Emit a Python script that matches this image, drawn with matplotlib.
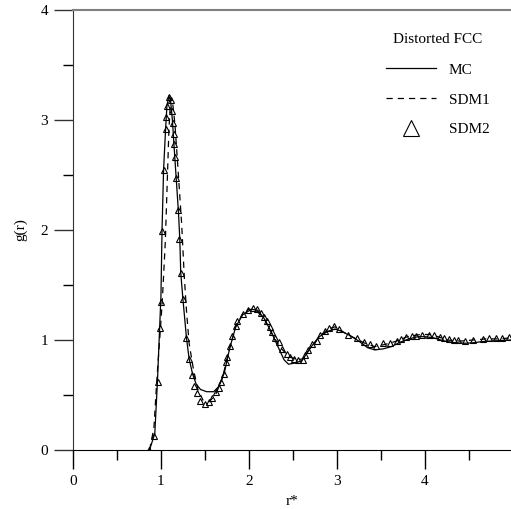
import matplotlib
matplotlib.use('Agg')
import matplotlib.pyplot as plt
import numpy as np

plt.rcParams['font.family'] = ['Liberation Serif', 'DejaVu Serif']

# MC (solid line)
r_mc = [0.87, 0.93, 0.96, 0.985, 1.0, 1.012, 1.03, 1.053, 1.068, 1.09, 1.11, 1.13,
        1.15, 1.175, 1.20, 1.215, 1.225, 1.25, 1.29, 1.32, 1.36, 1.40, 1.45, 1.52,
        1.60, 1.66, 1.72, 1.78, 1.85, 1.93, 2.03, 2.10, 2.17, 2.25, 2.33, 2.40,
        2.45, 2.52, 2.60, 2.70, 2.80, 2.90, 2.98, 3.05, 3.15, 3.25, 3.35, 3.43,
        3.53, 3.62, 3.72, 3.82, 3.92, 4.00, 4.10, 4.18, 4.26, 4.35, 4.45, 4.55,
        4.65, 4.75, 4.85, 4.98]
g_mc = [0.0, 0.15, 0.62, 1.11, 1.40, 1.99, 2.55, 2.92, 3.13, 3.22, 3.17, 3.00,
        2.75, 2.45, 2.15, 1.90, 1.61, 1.37, 1.02, 0.83, 0.69, 0.60, 0.55, 0.53,
        0.53, 0.58, 0.70, 0.92, 1.12, 1.23, 1.28, 1.27, 1.20, 1.08, 0.94, 0.82,
        0.78, 0.79, 0.81, 0.93, 1.03, 1.08, 1.10, 1.08, 1.04, 0.99, 0.93, 0.91,
        0.92, 0.94, 0.98, 1.01, 1.03, 1.03, 1.02, 1.00, 0.985, 0.975, 0.97, 0.975,
        0.985, 0.99, 0.995, 1.00]

# SDM1 (dashed line)
r_sdm1 = [0.87, 0.92, 0.95, 0.985, 1.015, 1.05, 1.07, 1.09, 1.11, 1.13, 1.16,
          1.19, 1.215, 1.235, 1.265, 1.29, 1.32, 1.37, 1.42, 1.48, 1.55, 1.62,
          1.70, 1.78, 1.85, 1.93, 2.00, 2.08, 2.17, 2.26, 2.35, 2.45, 2.55, 2.62,
          2.70, 2.80, 2.90, 2.98, 3.10, 3.22, 3.32, 3.43, 3.55, 3.68, 3.80, 3.95,
          4.05, 4.15, 4.25, 4.40, 4.55, 4.70, 4.85, 4.98]
g_sdm1 = [0.0, 0.2, 0.6, 1.0, 1.35, 1.9, 2.4, 2.9, 3.2, 3.18, 2.95,
          2.6, 2.3, 2.06, 1.58, 1.27, 0.97, 0.73, 0.55, 0.45, 0.44, 0.50,
          0.66, 0.92, 1.12, 1.24, 1.28, 1.27, 1.20, 1.06, 0.94, 0.85, 0.82, 0.83,
          0.93, 1.03, 1.10, 1.12, 1.06, 1.01, 0.97, 0.94, 0.96, 0.99, 1.03, 1.05,
          1.05, 1.03, 1.00, 0.99, 1.00, 1.01, 1.01, 1.02]

# SDM2 (triangles)
r_sdm2 = [0.86, 0.917, 0.962, 0.985, 0.997, 1.011, 1.03, 1.053, 1.06, 1.068, 1.09,
          1.11, 1.13, 1.14, 1.144, 1.15, 1.16, 1.174, 1.197, 1.21, 1.224, 1.247,
          1.29, 1.318, 1.356, 1.38, 1.405, 1.443, 1.497, 1.55, 1.58, 1.63, 1.66,
          1.68, 1.72, 1.745, 1.75, 1.78, 1.81, 1.85, 1.87, 1.93, 1.99, 2.05, 2.09,
          2.14, 2.17, 2.21, 2.24, 2.26, 2.295, 2.34, 2.38, 2.435, 2.47, 2.51, 2.56,
          2.61, 2.64, 2.67, 2.72, 2.77, 2.81, 2.86, 2.91, 2.97, 3.03, 3.13, 3.23,
          3.31, 3.375, 3.44, 3.53, 3.60, 3.68, 3.735, 3.79, 3.85, 3.905, 3.97,
          4.045, 4.11, 4.17, 4.22, 4.27, 4.33, 4.38, 4.46, 4.55, 4.66, 4.73, 4.81,
          4.88, 4.955]
g_sdm2 = [0.0, 0.127, 0.62, 1.11, 1.35, 1.99, 2.55, 2.92, 3.03, 3.13, 3.21,
          3.18, 3.08, 2.97, 2.87, 2.78, 2.66, 2.47, 2.18, 1.92, 1.61, 1.37,
          1.02, 0.83, 0.685, 0.585, 0.52, 0.45, 0.42, 0.44, 0.47, 0.53, 0.56,
          0.62, 0.69, 0.80, 0.85, 0.95, 1.04, 1.13, 1.17, 1.24, 1.27, 1.29, 1.28,
          1.25, 1.21, 1.17, 1.12, 1.07, 1.02, 0.98, 0.92, 0.87, 0.85, 0.83, 0.82,
          0.82, 0.86, 0.91, 0.96, 0.99, 1.05, 1.08, 1.11, 1.13, 1.10, 1.05, 1.02,
          0.985, 0.96, 0.95, 0.97, 0.975, 0.99, 1.01, 1.03, 1.04, 1.04, 1.05,
          1.05, 1.045, 1.03, 1.015, 1.005, 1.0, 1.0, 0.995, 1.0, 1.01, 1.015, 1.015,
          1.02, 1.03]

fig = plt.figure(figsize=(5.11, 5.09), dpi=100)
ax = fig.add_axes([73/511, 59/509, 438/511, 440/509])

ax.plot(r_mc, g_mc, color='black', lw=0.9, label='MC')
ax.plot(r_sdm1, g_sdm1, color='black', lw=0.9, ls=(0, (5, 4)), label='SDM1')
ax.plot(r_sdm2, g_sdm2, ls='none', marker='^', ms=5, mfc='none', mec='black',
        mew=0.8, label='SDM2')

ax.set_xlim(0, 4.98)
ax.set_ylim(0, 4)
ax.set_xticks([0, 1, 2, 3, 4])
ax.set_xticks([0.5, 1.5, 2.5, 3.5, 4.5], minor=True)
ax.set_yticks([0, 1, 2, 3, 4])
ax.set_yticks([0.5, 1.5, 2.5, 3.5], minor=True)
ax.tick_params(which='major', direction='out', length=14, width=1, labelsize=11, pad=4)
ax.tick_params(which='minor', direction='out', length=7, width=1)
ax.tick_params(axis='y', colors='#333333', labelcolor='black')

ax.spines['right'].set_visible(False)
ax.spines['top'].set_color('#808080')
ax.spines['top'].set_linewidth(1.5)
ax.spines['left'].set_color('#333333')

ax.set_xlabel('r*', fontsize=11, labelpad=5)
ax.set_ylabel('g(r)', fontsize=11, labelpad=9)

leg = ax.legend(title='Distorted FCC', frameon=False, loc='upper right',
                bbox_to_anchor=(0.982, 0.978), fontsize=11, title_fontsize=11,
                handlelength=3.3, labelspacing=1.05, handletextpad=0.8,
                markerscale=2.3)
leg._legend_box.align = 'center'
leg._legend_box.sep = 12

fig.savefig('out.png', dpi=100)
